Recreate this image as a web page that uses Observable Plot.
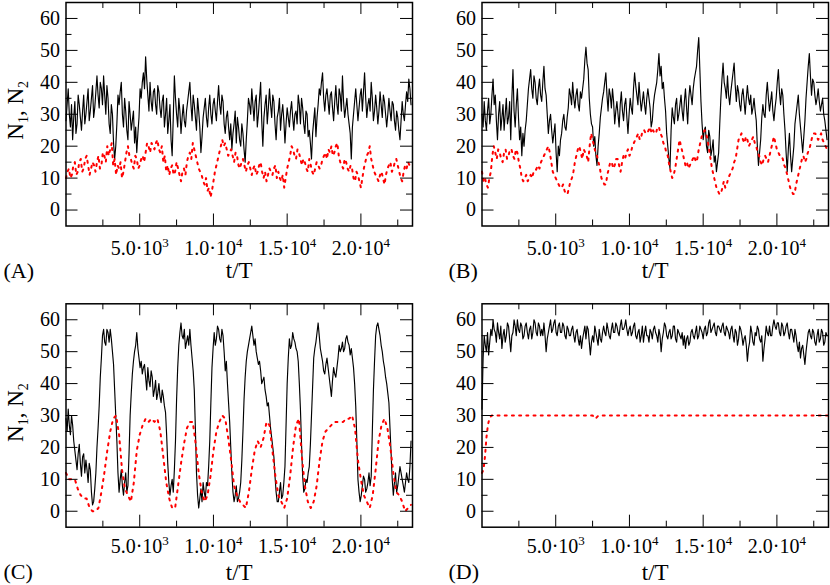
<!DOCTYPE html>
<html><head><meta charset="utf-8">
<script src="https://cdn.jsdelivr.net/npm/d3@7"></script>
<script src="https://cdn.jsdelivr.net/npm/@observablehq/plot@0.6"></script>
<style>
html,body{margin:0;padding:0;background:#fff;}
#wrap{position:relative;width:830px;height:585px;overflow:hidden;}
.panel{position:absolute;}
#wrap svg, #wrap svg text{font-family:'Liberation Serif','Times New Roman',serif !important;}
</style></head><body><div id="wrap"></div>
<script>
// ---- axes / text ----
const T_MAX = 23500;
const xMajorTicks = [5000, 10000, 15000, 20000];
const xMinorTicks = [2500, 7500, 12500, 17500, 22500];
const yMajorTicks = [0, 10, 20, 30, 40, 50, 60];
const yMinorTicks = [5, 15, 25, 35, 45, 55];
const xTickMantissa = ["5.0·10", "1.0·10", "1.5·10", "2.0·10"];
const xTickExponent = ["3", "4", "4", "4"];
const panelLabels = ["(A)", "(B)", "(C)", "(D)"];
const xLabel = "t/T";
const yLabelMain = ["N", ", N"];
const yLabelSub = ["1", "2"];
// sampling step of the read-off series (t/T units)
const N1_STEP = 75;
const N2_STEP_AB = 100;
const N2_STEP_C = 200;

// ---- N1 (black, solid) ----
const n1A = [28,33,38,30,26,33,22,29,34,24,27,36,33,29,25,31,36,27,30,34,
38,28,31,35,39,29,32,37,42,36,32,40,38,33,42,36,30,39,35,27,
24,33,30,21,16,20,27,36,33,37,40,30,26,35,31,25,22,34,30,25,
28,31,21,26,18,24,29,38,35,40,43,38,48,41,36,31,40,34,31,37,
38,33,30,39,37,32,29,34,36,26,30,35,24,28,33,22,17,29,42,35,
30,26,35,31,24,29,33,28,26,31,34,37,40,33,28,36,33,29,25,35,
31,26,18,23,29,32,35,29,26,32,36,30,27,33,35,31,28,34,39,33,
30,36,34,27,24,29,31,26,22,27,19,24,27,31,21,29,26,22,20,27,
24,19,15,22,28,35,33,30,38,33,28,34,36,26,30,35,40,28,20,29,
33,36,27,32,38,33,29,36,34,27,22,29,31,35,25,30,33,28,21,27,
32,29,26,31,34,29,25,30,31,27,36,33,27,35,32,27,24,31,30,23,
25,21,16,24,28,32,23,29,33,38,36,40,43,35,31,36,38,34,30,36,
37,32,28,34,39,33,30,38,36,31,42,34,29,32,35,30,27,24,16,26,
30,34,38,33,28,32,36,38,31,37,43,35,29,33,35,31,40,35,28,31,
36,32,27,31,37,33,29,36,34,30,26,30,35,31,28,34,33,28,25,31,
29,25,22,28,34,30,28,33,37,34,41,38,33];
const n1B = [30,26,34,28,25,31,35,27,30,36,41,33,36,28,22,30,34,25,29,33,
25,30,35,27,29,34,22,35,44,31,26,33,38,29,22,26,17,24,20,25,
28,33,38,41,44,38,35,42,40,35,33,38,41,36,34,40,45,38,36,30,
24,28,30,25,21,24,27,18,12,20,17,22,24,28,30,26,25,29,32,38,
36,33,40,35,32,36,38,33,31,37,35,38,41,47,51,46,44,35,30,27,
26,20,23,17,14,20,24,29,32,35,37,40,43,36,31,38,36,32,38,34,
27,31,34,30,26,33,37,31,28,33,35,29,24,30,35,32,30,38,43,39,
36,33,40,35,31,34,37,33,30,35,38,35,32,26,28,33,36,38,40,44,
49,42,45,38,40,35,31,24,20,16,13,25,32,29,27,33,35,28,30,33,
36,31,28,34,38,32,27,35,39,36,33,38,41,43,45,50,54,44,34,27,
22,25,26,20,18,25,23,17,19,22,15,17,12,15,18,27,35,41,46,40,
38,35,42,36,33,37,40,43,46,39,34,39,37,33,31,36,38,34,30,35,
39,35,33,36,30,32,35,31,28,20,14,18,22,29,33,30,29,36,40,35,
31,34,37,31,28,32,35,40,44,37,33,38,36,30,25,18,12,19,24,17,
12,16,20,27,30,33,36,30,26,22,18,23,28,35,40,45,49,42,36,41,
40,36,33,35,38,34,31,33,35,30,28,25,22];
const n1C = [29,25,32,27,24,30,27,22,19,16,13,18,21,15,11,17,18,12,16,13,
9,15,13,6,2,3,7,12,20,26,33,42,48,55,57,53,52,57,56,53,
57,54,50,46,38,30,22,12,6,10,13,8,5,9,12,6,8,18,30,37,
43,47,50,52,56,51,48,45,47,43,45,46,42,38,45,41,39,44,42,36,
38,41,35,37,40,36,34,38,36,33,31,24,15,9,5,8,10,6,13,22,
35,45,52,56,59,55,54,57,51,53,55,52,57,52,48,44,38,26,12,5,
1,4,7,3,9,6,4,9,8,14,22,34,45,51,56,52,54,58,57,54,
53,57,55,50,44,47,40,34,28,20,12,6,3,5,8,3,4,6,9,16,
25,35,42,47,50,52,54,56,58,55,52,54,50,48,46,47,44,40,41,42,
38,36,33,34,30,26,23,20,17,11,6,3,3,6,9,4,5,9,14,27,
40,48,54,51,52,56,54,53,51,50,47,40,32,21,11,6,7,10,9,12,
14,21,30,39,48,51,53,56,59,55,51,49,47,44,43,46,48,45,42,39,
36,41,45,43,42,45,48,52,50,51,53,50,51,54,55,53,52,49,51,48,
45,40,33,22,10,6,3,5,8,11,10,6,7,9,12,8,11,25,38,47,
55,58,59,57,55,52,50,47,45,42,40,37,34,26,18,10,5,9,12,6,
8,11,14,12,10,8,6,9,12,10,9,14,22];
const n1D = [32,48,55,52,50,56,49,53,57,55,60,57,56,53,59,56,54,58,51,55,
57,53,55,59,58,54,50,55,56,60,58,55,60,57,56,59,58,54,55,58,
59,56,54,57,58,54,56,60,59,56,55,59,58,55,57,55,59,55,50,54,
56,58,60,56,57,59,60,56,55,58,59,56,56,59,58,55,54,58,57,55,
55,57,58,55,53,56,57,54,52,55,51,54,56,58,54,58,57,53,49,53,
55,53,58,56,54,52,57,54,53,56,58,56,55,59,57,55,54,57,59,56,
56,59,58,56,55,58,60,57,57,58,60,57,55,57,58,55,56,58,59,55,
54,56,57,53,55,58,53,56,58,55,55,53,57,56,54,57,58,56,55,53,
57,55,50,54,56,59,58,55,54,56,57,54,55,58,58,54,53,57,56,55,
54,56,52,55,51,54,55,52,53,56,57,55,54,56,58,54,55,58,57,56,
54,57,58,55,56,59,60,56,57,58,59,56,55,58,58,57,56,58,59,56,
55,58,57,56,54,57,58,55,53,57,56,52,54,58,57,55,52,54,55,52,
47,51,53,58,56,53,52,56,55,58,57,54,53,55,47,51,54,58,56,55,
58,55,55,58,60,58,57,59,59,56,55,59,58,55,56,58,59,56,54,57,
57,55,53,57,55,52,50,53,48,51,52,49,46,50,53,56,57,55,54,57,
56,53,52,55,57,53,54,57,56,52,53,56,55];

// ---- N2 (red, dotted) ----
const n2A = [10,12,13,10,11,14,15,11,12,15,16,12,13,16,17,14,11,13,15,14,
12,15,17,13,14,18,17,15,20,17,19,21,14,16,11,14,13,15,10,12,
15,18,20,17,16,14,13,17,16,13,14,16,17,15,18,21,20,18,21,20,
19,21,22,19,18,20,15,17,12,14,11,13,14,11,12,15,13,11,9,12,
13,11,15,17,18,16,21,19,17,15,13,12,11,9,8,10,6,7,4,6,
9,12,14,16,18,20,22,20,21,19,17,18,19,17,15,18,17,14,13,15,
16,14,12,14,15,13,11,13,14,11,12,14,15,12,10,12,9,11,13,12,
11,13,14,10,12,10,9,11,7,10,13,15,17,20,19,17,16,19,18,16,
14,16,15,13,12,16,14,12,11,13,15,14,13,14,16,17,18,16,19,18,
20,17,18,20,21,17,15,14,13,16,15,13,12,14,13,10,9,12,11,9,
7,10,13,15,17,18,20,16,14,12,11,10,9,11,12,10,8,11,13,14,
15,12,13,15,16,14,12,10,9,12,14,13,15,14,13];
const n2B = [12,9,10,8,7,10,12,17,20,18,16,19,18,16,15,18,19,16,17,19,
19,17,16,19,18,15,13,10,9,10,11,9,10,11,10,12,12,13,14,13,
15,16,17,18,19,20,18,15,12,11,10,9,8,7,7,8,6,5,5,7,
9,10,12,15,17,19,20,18,16,19,18,17,15,20,24,22,20,18,17,15,
13,10,9,8,8,11,13,15,15,13,14,16,16,14,12,15,17,16,18,19,
17,18,20,21,22,23,24,22,23,25,25,24,24,25,26,24,25,24,24,26,
26,24,23,21,20,18,17,14,12,10,11,13,16,19,22,20,18,16,14,15,
13,14,15,16,17,15,16,19,21,23,24,25,24,22,19,16,13,11,9,7,
6,5,5,7,9,7,8,10,11,12,13,15,16,19,22,23,24,22,21,23,
22,20,21,22,23,21,20,18,17,15,14,16,17,16,15,17,19,21,23,21,
19,18,17,17,16,14,13,11,9,7,6,5,5,8,10,12,14,16,17,15,
16,18,19,21,23,24,24,23,22,23,24,22,21,20,19];
const n2C = [12,10,10,10,7,5,4,4,1,0, 0,1,6,12,19,25,29,30,24,13, 7,5,3,9,19,24,27,29,28,29,
  28,29,25,17,9,4,1,1,8,15, 21,26,28,28,21,12,6,3,5,11, 19,25,28,30,29,23,16,8,5,3,
  2,1,6,13,19,22,20,23,28,27, 19,11,5,3,1,4,11,20,27,29, 17,8,3,1,3,8,16,22,25,26,
  27,28,28,28,28,29,29,30,26,16, 10,5,3,1,5,13,22,27,29,26, 20,12,6,5,3,0,1,2];
const n2Dt = [0, 100, 200, 300, 400, 500, 650, 7500, 7700, 7900, 23500];
const n2Dv = [12, 13, 17, 23, 27, 29, 30, 30, 29, 30, 30];

const uniform = (vals, step) => vals.map((v, i) => ({t: i * step, v}));
const paired = (ts, vs) => ts.map((t, i) => ({t, v: vs[i]}));

const SVGNS = "http://www.w3.org/2000/svg";
const FONT_STYLE = "font-family:'Liberation Serif','Times New Roman',serif;background:transparent;overflow:visible;";
const xTickRows = xMajorTicks.map((t, i) => ({t, label: xTickMantissa[i]}));

function tspan(txt, attrs) {
  const el = document.createElementNS(SVGNS, "tspan");
  for (const k in attrs) el.setAttribute(k, attrs[k]);
  el.textContent = txt;
  return el;
}

function panel(cfg) {
  const {n1, n2, label, left, top, width, height, ml, mr, mt, mb, showY, tickDy, labelDy, labelDx, yLabelDy} = cfg;
  const fw = width - ml - mr, fh = height - mt - mb;
  const MAJ = 12, MIN = 6;
  const marks = [
    Plot.line(n1, {x: "t", y: "v", stroke: "#000", strokeWidth: 1.15}),
    Plot.line(n2, {x: "t", y: "v", stroke: "#ff0000", strokeWidth: 2, strokeDasharray: "2,5.2"}),
    // inward ticks on all four sides
    Plot.tickY(yMajorTicks, {y: d => d, insetRight: fw - MAJ, stroke: "#000"}),
    Plot.tickY(yMinorTicks, {y: d => d, insetRight: fw - MIN, stroke: "#000"}),
    Plot.tickY(yMajorTicks, {y: d => d, insetLeft: fw - MAJ, stroke: "#000"}),
    Plot.tickY(yMinorTicks, {y: d => d, insetLeft: fw - MIN, stroke: "#000"}),
    Plot.tickX(xMajorTicks, {x: d => d, insetTop: fh - MAJ, stroke: "#000"}),
    Plot.tickX(xMinorTicks, {x: d => d, insetTop: fh - MIN, stroke: "#000"}),
    Plot.tickX(xMajorTicks, {x: d => d, insetBottom: fh - MAJ, stroke: "#000"}),
    Plot.tickX(xMinorTicks, {x: d => d, insetBottom: fh - MIN, stroke: "#000"}),
    Plot.frame({stroke: "#000", strokeWidth: 1.5}),
    Plot.text(yMajorTicks, {y: d => d, frameAnchor: "left", dx: -6, textAnchor: "end", lineAnchor: "middle", text: d => String(d), fontSize: 20}),
    Plot.text(xTickRows, {x: "t", frameAnchor: "bottom", dy: tickDy, textAnchor: "middle", lineAnchor: "middle", text: "label", fontSize: 20}),
    Plot.text([xLabel], {frameAnchor: "bottom", dy: labelDy, textAnchor: "middle", lineAnchor: "middle", text: d => d, fontSize: 23}),
    Plot.text([label], {frameAnchor: "bottom-left", dx: labelDx, dy: labelDy, textAnchor: "start", lineAnchor: "middle", text: d => d, fontSize: 22})
  ];
  if (showY) marks.push(Plot.text([yLabelMain[0]], {frameAnchor: "left", rotate: -90, dx: -50, dy: yLabelDy, textAnchor: "middle", lineAnchor: "middle", text: d => d, fontSize: 23}));
  const svg = Plot.plot({
    width, height, marginLeft: ml, marginRight: mr, marginTop: mt, marginBottom: mb,
    x: {domain: [0, T_MAX], axis: null},
    y: {domain: [-5, 65], axis: null},
    style: FONT_STYLE,
    marks
  });
  // add exponents to the x tick labels and subscripts to the y label
  svg.querySelectorAll("text").forEach((el) => {
    const s = el.textContent;
    const k = xTickMantissa.indexOf(s);
    if (k >= 0) {
      el.appendChild(tspan(xTickExponent[k], {"font-size": 13, dy: -8}));
    } else if (s === yLabelMain[0]) {
      el.appendChild(tspan(yLabelSub[0], {"font-size": 14, dy: 5}));
      el.appendChild(tspan(yLabelMain[1], {dy: -5}));
      el.appendChild(tspan(yLabelSub[1], {"font-size": 14, dy: 5}));
    }
  });
  const div = document.createElement("div");
  div.className = "panel";
  div.style.left = left + "px";
  div.style.top = top + "px";
  div.appendChild(svg);
  document.getElementById("wrap").appendChild(div);
}

const topRow = {top: 0, height: 292, mt: 2, mb: 66.5, tickDy: 22.5, labelDy: 45, yLabelDy: -4};
const botRow = {top: 292, height: 293, mt: 11.3, mb: 58.3, tickDy: 19, labelDy: 45, yLabelDy: -3};
const leftCol = {left: 0, width: 415, ml: 65.5, mr: 3, labelDx: -62.5, showY: true};
const rightCol = {left: 415, width: 415, ml: 66.5, mr: 2, labelDx: -33.5, showY: false};

panel({...topRow, ...leftCol, n1: uniform(n1A, N1_STEP), n2: uniform(n2A, N2_STEP_AB), label: panelLabels[0]});
panel({...topRow, ...rightCol, n1: uniform(n1B, N1_STEP), n2: uniform(n2B, N2_STEP_AB), label: panelLabels[1]});
panel({...botRow, ...leftCol, n1: uniform(n1C, N1_STEP), n2: uniform(n2C, N2_STEP_C), label: panelLabels[2]});
panel({...botRow, ...rightCol, n1: uniform(n1D, N1_STEP), n2: paired(n2Dt, n2Dv), label: panelLabels[3]});
</script></body></html>
